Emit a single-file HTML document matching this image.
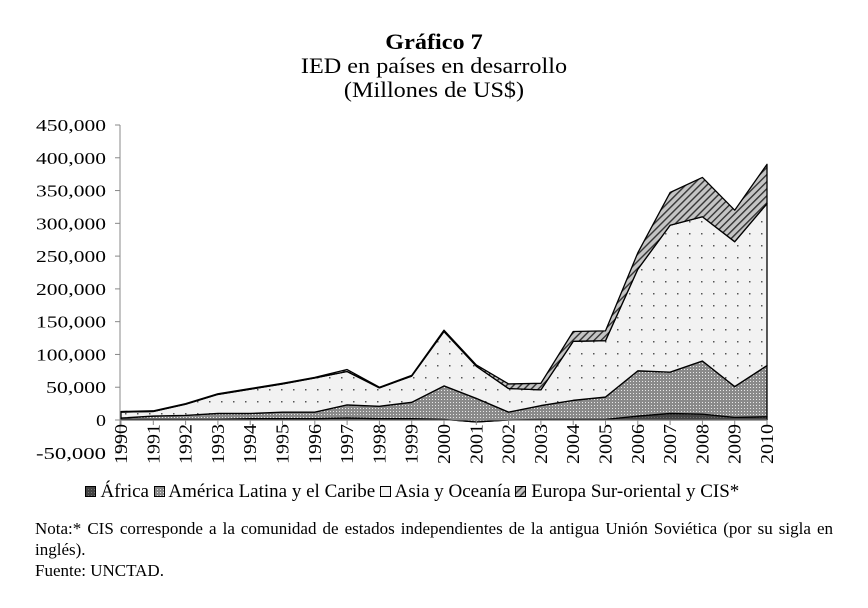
<!DOCTYPE html>
<html><head><meta charset="utf-8">
<style>
body{margin:0;background:#fff;width:868px;height:608px;overflow:hidden;font-family:"Liberation Serif",serif;color:#000}
.t{position:absolute;left:0;width:868px;text-align:center;font-size:22px;line-height:24px;transform:scaleX(1.1)}
.note{position:absolute;left:35px;width:798px;font-size:17px;line-height:21px;text-align:justify;text-align-last:left}
</style></head><body>
<div class="t" style="top:30px;font-weight:bold">Gráfico 7</div>
<div class="t" style="top:54px">IED en países en desarrollo</div>
<div class="t" style="top:78px">(Millones de US$)</div>
<svg id="ch" width="868" height="608" style="position:absolute;left:0;top:0">
<defs>
<pattern id="pAf" width="3" height="3" patternUnits="userSpaceOnUse"><rect width="3" height="3" fill="#444"/><rect width="1" height="1" fill="#777"/></pattern>
<pattern id="pLa" width="3" height="3" patternUnits="userSpaceOnUse"><rect width="3" height="3" fill="#8a8a8a"/><rect width="1" height="1" fill="#e8e8e8"/></pattern>
<pattern id="pAs" width="12" height="12" patternUnits="userSpaceOnUse"><rect width="12" height="12" fill="#f2f2f2"/><rect x="5" y="5" width="1.5" height="1.5" fill="#555"/></pattern>
<pattern id="pEu" width="5" height="5" patternUnits="userSpaceOnUse" patternTransform="rotate(45)"><rect width="5" height="5" fill="#c4c4c4"/><rect width="1.4" height="5" fill="#333"/></pattern>
</defs>
<g id="plot"></g>
</svg>
<div style="position:absolute;top:481px;left:-22px;width:868px;text-align:center;font-size:19px;line-height:22px">
<span><svg width="11" height="11"><rect x="0.5" y="0.5" width="10" height="10" fill="url(#pAf)" stroke="#000"/></svg> África</span>
<span><svg width="11" height="11"><rect x="0.5" y="0.5" width="10" height="10" fill="url(#pLa)" stroke="#000"/></svg> América Latina y el Caribe</span>
<span><svg width="11" height="11"><rect x="0.5" y="0.5" width="10" height="10" fill="#f2f2f2" stroke="#000"/></svg> Asia y Oceanía</span>
<span><svg width="11" height="11"><rect x="0.5" y="0.5" width="10" height="10" fill="url(#pEu)" stroke="#000"/></svg> Europa Sur-oriental y CIS*</span>
</div>
<div class="note" style="top:518px">Nota:* CIS corresponde a la comunidad de estados independientes de la antigua Unión Soviética (por su sigla en inglés).<br>Fuente: UNCTAD.</div>
<script>
const years=[1990,1991,1992,1993,1994,1995,1996,1997,1998,1999,2000,2001,2002,2003,2004,2005,2006,2007,2008,2009,2010];
const africa=[1000,1000,1000,1000,2000,2000,2000,3000,2000,2000,1000,-3000,0,1000,1000,1000,6000,10000,9000,4000,5000];
const latam=[2000,5000,6000,9000,8000,10000,10000,20000,19000,25000,51000,36000,12000,21000,29000,34000,69000,63000,81000,47000,78000];
const asia=[9000,7000,17000,29000,37000,43000,52000,51000,28000,40000,83000,49000,36000,24000,90000,86000,155000,224000,220000,221000,247000];
const europa=[1000,1000,1000,1000,1000,1000,1000,3000,1000,1000,2000,2000,7000,10000,15000,15000,25000,50000,60000,48000,60000];
const yTicks=[-50000,0,50000,100000,150000,200000,250000,300000,350000,400000,450000];
const NS="http://www.w3.org/2000/svg";
const g=document.getElementById('plot');
const X0=121,X1=767,Y0=420,YPX=295/450000;
function xs(i){return X0+(X1-X0)*i/(years.length-1);}
function ys(v){return Y0-v*YPX;}
function mk(t,a){const e=document.createElementNS(NS,t);for(const k in a)e.setAttribute(k,a[k]);g.appendChild(e);return e;}
const series=[[africa,'url(#pAf)','area-africa'],[latam,'url(#pLa)','area-america-latina'],[asia,'url(#pAs)','area-asia-oceania'],[europa,'url(#pEu)','area-europa-cis']];
let base=years.map(()=>0);
series.forEach(s=>{
  const top=base.map((b,i)=>b+s[0][i]);
  let d='M'+years.map((y,i)=>xs(i)+','+ys(top[i])).join('L');
  for(let i=years.length-1;i>=0;i--)d+='L'+xs(i)+','+ys(base[i]);
  const p=mk('path',{d:d+'Z',fill:s[1],stroke:'#000','stroke-width':1.3,'stroke-linejoin':'round'});
  
  
  base=top;
});
const ya=mk('line',{x1:X0-1,y1:ys(450000),x2:X0-1,y2:ys(-50000),stroke:'#888'});


const xa=mk('line',{x1:X0-1,y1:Y0,x2:X1,y2:Y0,stroke:'#888'});


yTicks.forEach(v=>{
  mk('line',{x1:X0-6,y1:ys(v),x2:X0-1,y2:ys(v),stroke:'#888'});
  const s=v.toLocaleString('en-US');
  const t=mk('text',{x:X0-15,y:ys(v)+6,'text-anchor':'end','font-size':17,'font-family':'Liberation Serif, serif',textLength:s.length*10,lengthAdjust:'spacingAndGlyphs'});
  t.textContent=s;
  
  
});
years.forEach((y,i)=>{
  mk('line',{x1:xs(i),y1:Y0,x2:xs(i),y2:Y0+5,stroke:'#888'});
  const t=mk('text',{x:0,y:0,'text-anchor':'end','font-size':18,'font-family':'Liberation Serif, serif',textLength:40,lengthAdjust:'spacingAndGlyphs',transform:'translate('+(xs(i)+6)+','+(Y0+4)+') rotate(-90)'});
  t.textContent=y;
  
  
});
</script>
</body></html>
